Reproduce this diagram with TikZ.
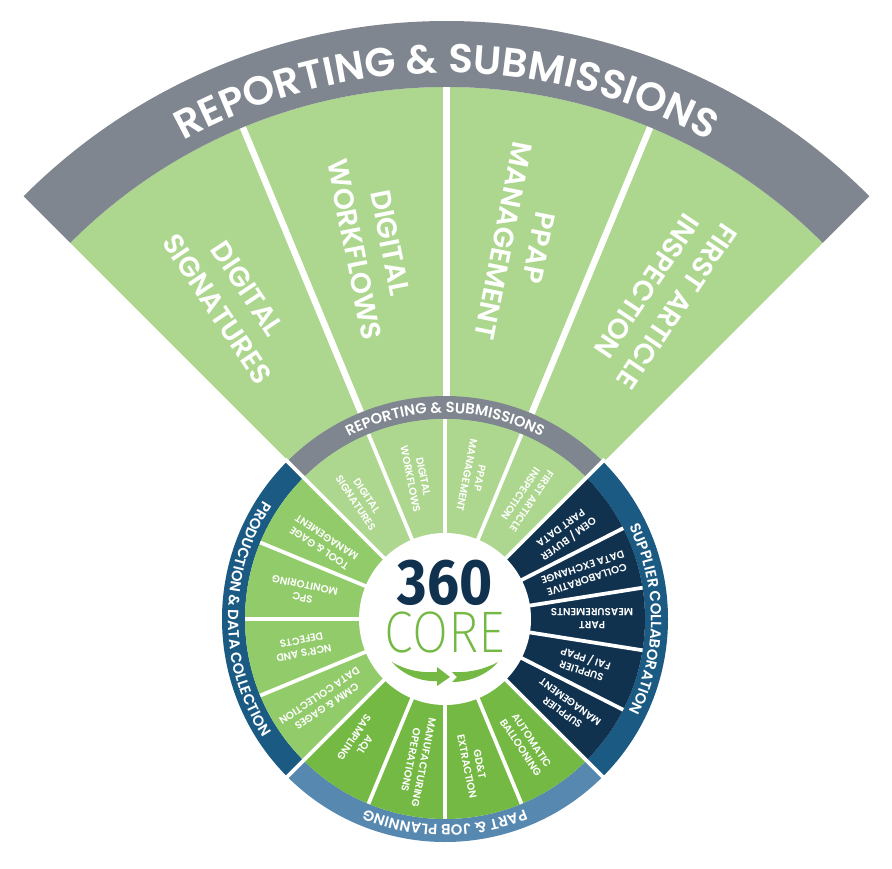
\documentclass[tikz,border=0pt]{standalone}
\usepackage{fontspec}
\setmainfont{Poppins}[BoldFont={Poppins SemiBold}]
\newfontfamily\hubfont{Fira Sans}
\newfontfamily\corefont{Fira Sans ExtraLight}
\usetikzlibrary{decorations.text}
\definecolor{fanband}{HTML}{80868F}
\definecolor{fangreen}{HTML}{ADD78F}
\definecolor{midgreen}{HTML}{92CB6A}
\definecolor{leafgreen}{HTML}{74B943}
\definecolor{navyseg}{HTML}{10324F}
\definecolor{ringblue}{HTML}{1A5A83}
\definecolor{ringpale}{HTML}{5688B0}
\newcommand{\headfont}{\fontsize{34.5}{34.5}\selectfont\bfseries}
\newcommand{\ringfont}{\fontsize{12.6}{12.6}\selectfont\bfseries}
\begin{document}
\begin{tikzpicture}[x=0.03cm, y=0.03cm]
                      \tikzstyle{every node}+=[inner sep=0pt, text=white, align=center]
                      \tikzstyle{bigdivider}=[white, line width=5.5pt]
                      \tikzstyle{divider}=[white, line width=3.2pt]
                      \tikzstyle{biglabel}=[font=\fontsize{24}{31}\selectfont\bfseries]
                      \tikzstyle{seglabel}=[font=\fontsize{8.8}{11.2}\selectfont\bfseries]
                      \useasboundingbox (0,0) rectangle (892,-869);
                      \begin{scope}[shift={(446.5,-619)}]
                      \fill [fangreen] (0,0) -- (135:532) arc (135:45:532) -- cycle;
                      \fill [fanband] (135:532) -- (135:598) arc (135:45:598) -- (45:532) arc (45:135:532) -- cycle;
                      \draw [bigdivider] (112.5:220) -- (112.5:532);
                      \draw [bigdivider] (90:220) -- (90:532);
                      \draw [bigdivider] (67.5:220) -- (67.5:532);
                      \path [decorate, decoration={text along path, text align=center, text={|\color{white}\headfont|REPORTING {\&} SUBMISSIONS}}] (120:546) arc (120:60:546);
                      \node [biglabel, rotate=303.75] (bigsignatures) at (123.75:385) {DIGITAL\\SIGNATURES};
                      \node [biglabel, rotate=281.25] (bigworkflows) at (101.25:380) {DIGITAL\\WORKFLOWS};
                      \node [biglabel, rotate=258.75] (bigppap) at (78.75:382) {PPAP\\MANAGEMENT};
                      \node [biglabel, rotate=236.25] (bigarticle) at (56.25:388) {FIRST ARTICLE\\INSPECTION};
                      \end{scope}
                      \begin{scope}[shift={(445,-619)}]
                      \fill [white] (0,0) -- (45:225) arc (45:-225:225) -- cycle;
                      \fill [fanband] (135:200) -- (135:223) arc (135:45:223) -- (45:200) arc (45:135:200) -- cycle;
                      \fill [ringblue] (45:200) -- (45:223) arc (45:-45:223) -- (-45:200) arc (-45:45:200) -- cycle;
                      \fill [ringpale] (-45:200) -- (-45:223) arc (-45:-135:223) -- (-135:200) arc (-135:-45:200) -- cycle;
                      \fill [ringblue] (-135:200) -- (-135:223) arc (-135:-225:223) -- (-225:200) arc (-225:-135:200) -- cycle;
                      \fill [fangreen] (0,0) -- (45:200) arc (45:135:200) -- cycle;
                      \fill [midgreen] (0,0) -- (135:200) arc (135:225:200) -- cycle;
                      \fill [leafgreen] (0,0) -- (225:200) arc (225:315:200) -- cycle;
                      \fill [navyseg] (0,0) -- (-45:200) arc (-45:45:200) -- cycle;
                      \draw [divider] (45:80) -- (45:226);
                      \draw [divider] (135:80) -- (135:226);
                      \draw [divider] (225:80) -- (225:226);
                      \draw [divider] (315:80) -- (315:226);
                      \draw [divider] (67.5:80) -- (67.5:200);
                      \draw [divider] (90:80) -- (90:200);
                      \draw [divider] (112.5:80) -- (112.5:200);
                      \draw [divider] (157.5:80) -- (157.5:200);
                      \draw [divider] (180:80) -- (180:200);
                      \draw [divider] (202.5:80) -- (202.5:200);
                      \draw [divider] (247.5:80) -- (247.5:200);
                      \draw [divider] (270:80) -- (270:200);
                      \draw [divider] (292.5:80) -- (292.5:200);
                      \draw [divider] (27:80) -- (27:200);
                      \draw [divider] (9:80) -- (9:200);
                      \draw [divider] (-9:80) -- (-9:200);
                      \draw [divider] (-27:80) -- (-27:200);
                      \fill [white] (0,0) circle (86);
                      \path [decorate, decoration={text along path, text align=center, text={|\color{white}\ringfont|REPORTING {\&} SUBMISSIONS}}] (135:206) arc (135:45:206);
                      \path [decorate, decoration={text along path, text align=center, text={|\color{white}\ringfont|SUPPLIER COLLABORATION}}] (45:206) arc (45:-45:206);
                      \path [decorate, decoration={text along path, text align=center, text={|\color{white}\ringfont|PART {\&} JOB PLANNING}}] (-45:206) arc (-45:-135:206);
                      \path [decorate, decoration={text along path, text align=center, text={|\color{white}\ringfont|PRODUCTION {\&} DATA COLLECTION}}] (135:217) arc (135:225:217);
                      \node [seglabel, rotate=303.75] (signatures) at (125:146) {DIGITAL\\SIGNATURES};
                      \node [seglabel, rotate=281.25] (workflows) at (101.25:144) {DIGITAL\\WORKFLOWS};
                      \node [seglabel, rotate=258.75] (ppap) at (78.75:145) {PPAP\\MANAGEMENT};
                      \node [seglabel, rotate=236.25] (article) at (56.25:146) {FIRST ARTICLE\\INSPECTION};
                      \node [seglabel, rotate=216] (oem) at (35:147) {OEM / BUYER\\PART DATA};
                      \node [seglabel, rotate=198] (collab) at (18:147) {COLLABORATIVE\\DATA EXCHANGE};
                      \node [seglabel, rotate=180] (measure) at (0:147) {PART\\MEASUREMENTS};
                      \node [seglabel, rotate=162] (fai) at (-18:146) {SUPPLIER\\FAI / PPAP};
                      \node [seglabel, rotate=144] (suppliermgmt) at (-36:150) {SUPPLIER\\MANAGEMENT};
                      \node [seglabel, rotate=303.75] (balloon) at (-57:149) {AUTOMATIC\\BALLOONING};
                      \node [seglabel, rotate=281.25] (gdt) at (-79:149) {GD\&T\\EXTRACTION};
                      \node [seglabel, rotate=258.75] (manuf) at (-101:145) {MANUFACTURING\\OPERATIONS};
                      \node [seglabel, rotate=236.25] (aql) at (-125:149) {AQL\\SAMPLING};
                      \node [seglabel, rotate=213.75] (cmm) at (214:147) {CMM \& GAGES\\DATA COLLECTION};
                      \node [seglabel, rotate=191.25] (ncr) at (191:145) {NCR'S AND\\DEFECTS};
                      \node [seglabel, rotate=168.75] (spc) at (169:144) {SPC\\MONITORING};
                      \node [seglabel, rotate=146.25] (tool) at (148:144) {TOOL \& GAGE\\MANAGEMENT};
                      \end{scope}
                      \node [text=navyseg, font=\hubfont\bfseries\fontsize{55}{55}\selectfont] (threesixty) at (445,-582.5) {\scalebox{0.88}[1]{360}};
                      \node [text=leafgreen, font=\corefont\fontsize{50}{50}\selectfont] (corelabel) at (445,-632) {\scalebox{0.89}[1]{CORE}};
                      \fill [leafgreen] (392,-662) .. controls (405,-670) and (420,-673) .. (437,-672) -- (437,-667) -- (450,-677) -- (437,-686) -- (437,-681) .. controls (420,-682) and (402,-674) .. (392,-662) -- cycle;
                      \fill [leafgreen] (452,-672) -- (457,-677) -- (452,-682) .. controls (470,-682) and (488,-674) .. (498,-662) .. controls (485,-669) and (470,-673) .. (452,-672) -- cycle;
                  \end{tikzpicture}
\end{document}
